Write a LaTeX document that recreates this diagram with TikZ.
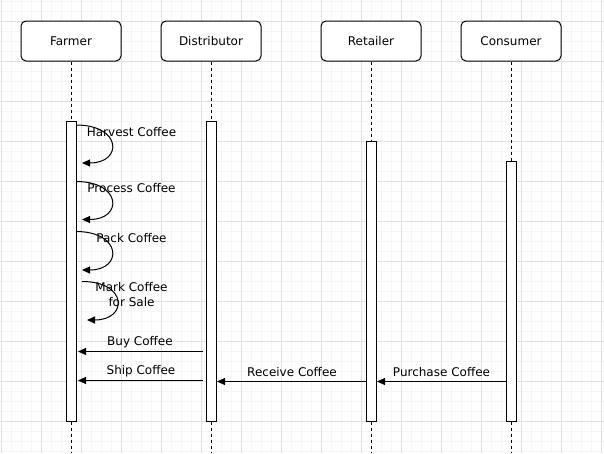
\documentclass[tikz,border=0pt]{standalone}
\usepackage{fontspec}
\setmainfont{DejaVu Sans}
\usepackage{tikz}
\usetikzlibrary{arrows.meta}
\definecolor{gridmajor}{RGB}{224, 224, 224}
\definecolor{gridminor}{RGB}{246, 246, 246}
\tikzset{
    actor/.style={draw, line width=1pt, rounded corners=5pt, fill=white, minimum width=100pt, minimum height=40pt},
    actbar/.style={draw, line width=1pt, fill=white, minimum width=10pt, inner sep=0pt, anchor=north},
    lifeline/.style={line width=1pt, dash pattern=on 3pt off 3pt},
    msg/.style={line width=1pt, -{Triangle[length=8pt, width=7pt]}}
}
\begin{document}
\begin{tikzpicture}[x=1pt, y=-1pt, font=\fontsize{12}{15}\selectfont]
        \useasboundingbox (0,0) rectangle (604,453);
        \fill[white] (0,0) rectangle (604,453);
        \foreach \x in {1,11,...,601} \draw[gridminor, line width=1pt] (\x,0) -- (\x,453);
        \foreach \y in {1,11,...,451} \draw[gridminor, line width=1pt] (0,\y) -- (604,\y);
        \foreach \x in {1,41,...,601} \draw[gridmajor, line width=1pt] (\x,0) -- (\x,453);
        \foreach \y in {21,61,...,421} \draw[gridmajor, line width=1pt] (0,\y) -- (604,\y);
        \foreach \name/\x/\top/\lbl in {
            farmer/71/121/Farmer,
            dist/211/121/Distributor,
            retail/371/141/Retailer,
            consumer/511/161/Consumer}
        {
            \coordinate (\name end) at (\x,453);
            \node[actor] (\name) at (\x,41) {\lbl};
            \draw[lifeline] (\name.south) -- (\name end);
            \node[actbar, minimum height={421-\top}] (\name bar) at (\x,\top) {};
        }
        \foreach \name/\xa/\ya/\xb/\yb/\ly/\lbl in {
            harvest/76/125/82/163/132.5/{Harvest Coffee},
            process/76/181.5/82/219.5/188.5/{Process Coffee},
            pack/76/231.5/82/270/238.5/{Pack Coffee},
            mark/82/281.5/87/320/295/{Mark Coffee\\for Sale}}
        {
            \coordinate (\name from) at (\xa,\ya);
            \coordinate (\name to) at (\xb,\yb);
            \draw[msg] (\name from) .. controls +(46,0) and +(41,0) .. (\name to);
            \node[align=center] (\name) at (131.5,\ly) {\lbl};
        }
        \foreach \name/\xa/\xb/\y/\lx/\lbl in {
            buy/203/78/351.5/140/{Buy Coffee},
            ship/203/78/380.5/141/{Ship Coffee},
            receive/367/217/381.5/292/{Receive Coffee},
            purchase/507/377/381.5/441.5/{Purchase Coffee}}
        {
            \coordinate (\name from) at (\xa,\y);
            \coordinate (\name to) at (\xb,\y);
            \draw[msg] (\name from) -- (\name to);
            \node (\name) at (\lx,\y-9) {\lbl};
        }
    \end{tikzpicture}
\end{document}
